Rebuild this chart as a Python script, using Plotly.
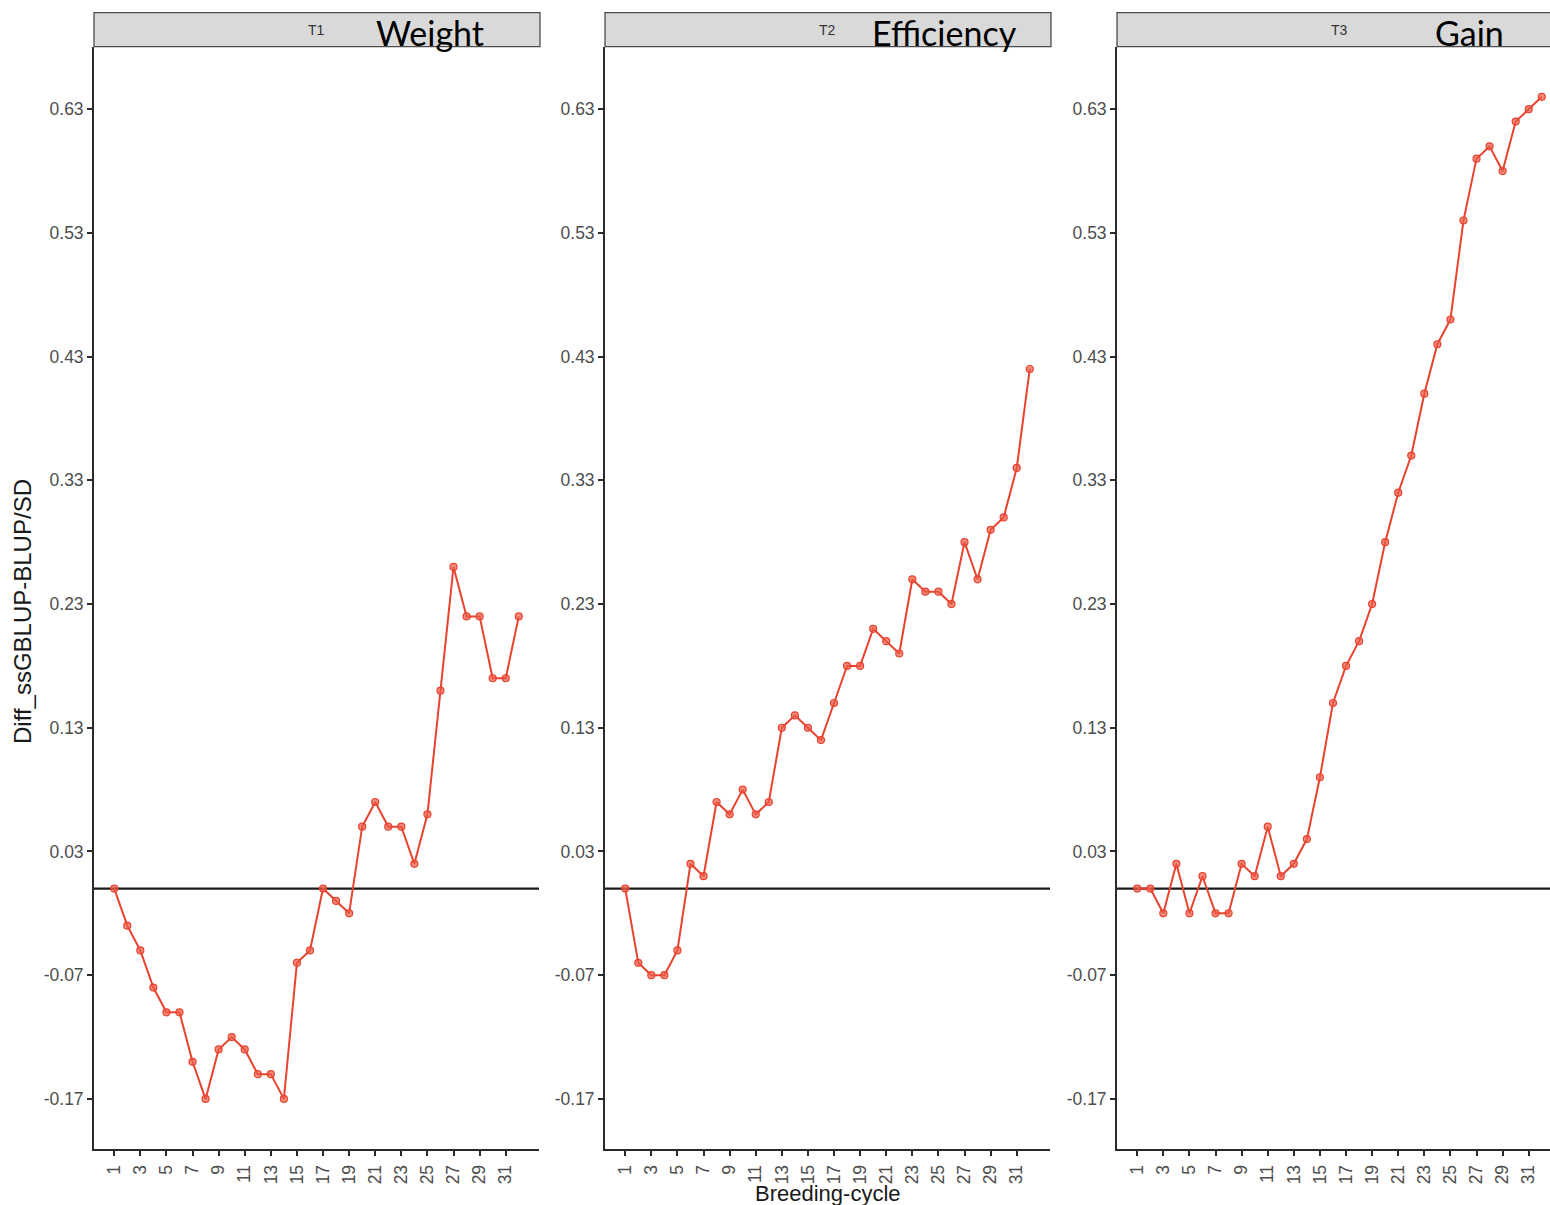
import plotly.graph_objects as go

# ---------------- data ----------------
cycles = list(range(1, 33))
t1_weight = [0.00, -0.03, -0.05, -0.08, -0.10, -0.10, -0.14, -0.17,
             -0.13, -0.12, -0.13, -0.15, -0.15, -0.17, -0.06, -0.05,
             0.00, -0.01, -0.02, 0.05, 0.07, 0.05, 0.05, 0.02,
             0.06, 0.16, 0.26, 0.22, 0.22, 0.17, 0.17, 0.22]
t2_efficiency = [0.00, -0.06, -0.07, -0.07, -0.05, 0.02, 0.01, 0.07,
                 0.06, 0.08, 0.06, 0.07, 0.13, 0.14, 0.13, 0.12,
                 0.15, 0.18, 0.18, 0.21, 0.20, 0.19, 0.25, 0.24,
                 0.24, 0.23, 0.28, 0.25, 0.29, 0.30, 0.34, 0.42]
t3_gain = [0.00, 0.00, -0.02, 0.02, -0.02, 0.01, -0.02, -0.02,
           0.02, 0.01, 0.05, 0.01, 0.02, 0.04, 0.09, 0.15,
           0.18, 0.20, 0.23, 0.28, 0.32, 0.35, 0.40, 0.44,
           0.46, 0.54, 0.59, 0.60, 0.58, 0.62, 0.63, 0.64]
panel_codes = ["T1", "T2", "T3"]
panel_names = ["Weight", "Efficiency", "Gain"]
y_ticks = [-0.17, -0.07, 0.03, 0.13, 0.23, 0.33, 0.43, 0.53, 0.63]
y_tick_text = ["-0.17", "-0.07", "0.03", "0.13", "0.23", "0.33", "0.43", "0.53", "0.63"]
x_ticks = list(range(1, 32, 2))
x_title = "Breeding-cycle"
y_title = "Diff_ssGBLUP-BLUP/SD"

# ---------------- layout helpers ----------------
W, H = 1550, 1205


def fx(px):
    return px / W


def fy(py):
    return 1 - py / H


PLOT_TOP, PLOT_BOT = 46.7, 1149
STRIP_TOP = 12.7
panels_px = [(94, 539), (605, 1050), (1117, 1562)]  # third panel is clipped by the page edge
XR = [-0.55, 33.55]
px_per_unit = (539 - 94) / (XR[1] - XR[0])
YR = [-0.2105, 0.6805]

LINE_COL = "#e8432f"
AX_COL = "#2b2b2b"
TICK_FONT = dict(family="Liberation Sans, Arial, sans-serif", size=17.5, color="#4d4d4d")

series = [t1_weight, t2_efficiency, t3_gain]

fig = go.Figure()
for i, vals in enumerate(series):
    sfx = "" if i == 0 else str(i + 1)
    fig.add_trace(go.Scatter(
        x=cycles, y=vals, mode="lines+markers",
        line=dict(color=LINE_COL, width=2),
        marker=dict(size=7, color="rgba(240,90,70,0.7)", line=dict(color=LINE_COL, width=1.2)),
        xaxis="x" + sfx, yaxis="y" + sfx, showlegend=False,
    ))

layout = dict(
    width=W, height=H, margin=dict(l=0, r=0, t=0, b=0),
    paper_bgcolor="white", plot_bgcolor="white",
    showlegend=False,
)

shapes = []
annotations = []
for i, (x0, x1) in enumerate(panels_px):
    sfx = "" if i == 0 else str(i + 1)
    right = min(x1, W)
    xr = [XR[0], XR[0] + (right - x0) / px_per_unit]
    layout["xaxis" + sfx] = dict(
        domain=[fx(x0), fx(right)], range=xr, anchor="y" + sfx,
        tickmode="array", tickvals=x_ticks, ticktext=[str(v) for v in x_ticks],
        tickangle=-90, tickfont=TICK_FONT,
        showline=True, linecolor=AX_COL, linewidth=1.8,
        ticks="outside", ticklen=5, tickwidth=1.5, tickcolor=AX_COL,
        showgrid=False, zeroline=False, ticklabelstandoff=2,
    )
    layout["yaxis" + sfx] = dict(
        domain=[fy(PLOT_BOT), fy(PLOT_TOP)], range=YR, anchor="x" + sfx,
        tickmode="array", tickvals=y_ticks, ticktext=y_tick_text, tickfont=TICK_FONT,
        showline=True, linecolor=AX_COL, linewidth=1.8,
        ticks="outside", ticklen=5, tickwidth=1.5, tickcolor=AX_COL,
        showgrid=False, zeroline=False, ticklabelstandoff=0,
    )
    # zero reference line
    shapes.append(dict(type="line", xref="x" + sfx + " domain", yref="y" + sfx,
                       x0=0, x1=1, y0=0, y1=0, line=dict(color="#1a1a1a", width=2.2),
                       layer="below"))
    # strip
    shapes.append(dict(type="rect", xref="paper", yref="paper",
                       x0=fx(x0), x1=fx(x1 + 1), y0=fy(PLOT_TOP), y1=fy(STRIP_TOP),
                       fillcolor="#d9d9d9", line=dict(color="#4d4d4d", width=1.3)))
    cx = (x0 + x1) / 2
    annotations.append(dict(text=panel_codes[i], x=fx(cx), y=fy(30), xref="paper", yref="paper",
                            showarrow=False, xanchor="center", yanchor="middle",
                            font=dict(family="Liberation Sans, Arial, sans-serif", size=14, color="#333333")))

name_centers = [430, 945, 1469]
for name, cxp in zip(panel_names, name_centers):
    annotations.append(dict(text=name, x=fx(cxp), y=fy(32), xref="paper", yref="paper",
                            showarrow=False, xanchor="center", yanchor="middle",
                            font=dict(family="Lato, Open Sans, sans-serif", size=34, color="black")))

annotations.append(dict(text=x_title, x=fx(828), y=fy(1193), xref="paper", yref="paper",
                        showarrow=False, xanchor="center", yanchor="middle",
                        font=dict(family="Liberation Sans, Arial, sans-serif", size=22, color="#1a1a1a")))
annotations.append(dict(text=y_title, x=fx(22), y=fy(612), xref="paper", yref="paper",
                        showarrow=False, xanchor="center", yanchor="middle", textangle=-90,
                        font=dict(family="Liberation Sans, Arial, sans-serif", size=24, color="#1a1a1a")))

layout["shapes"] = shapes
layout["annotations"] = annotations
fig.update_layout(**layout)

fig.write_html("out.html")
